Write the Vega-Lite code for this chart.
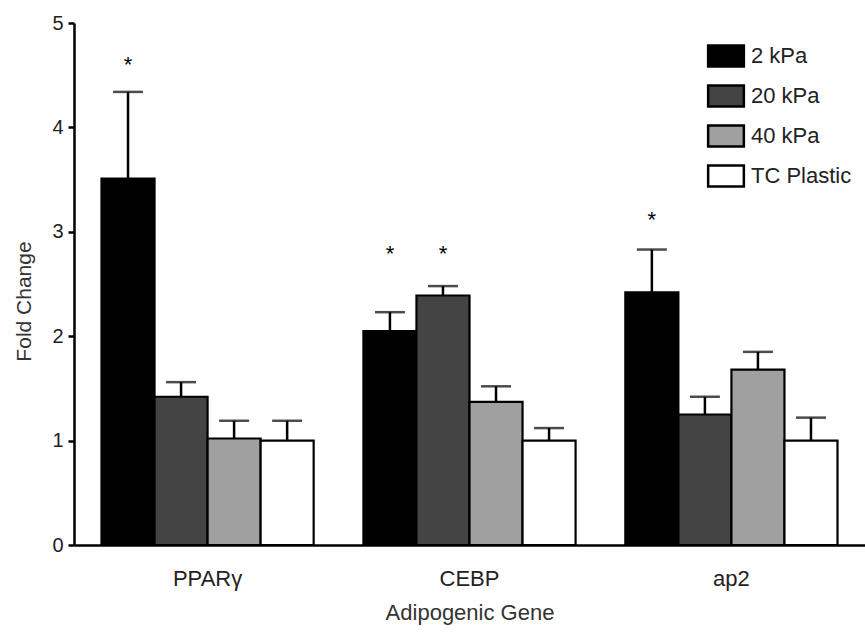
{
  "$schema": "https://vega.github.io/schema/vega-lite/v6.json",
  "width": 791,
  "height": 522,
  "autosize": {"type": "none"},
  "padding": {"left": 74, "top": 23, "right": 0, "bottom": 89},
  "background": "white",
  "config": {
    "font": "Liberation Sans",
    "view": {"stroke": null},
    "axis": {"grid": false, "labelFont": "Liberation Sans", "titleFont": "Liberation Sans", "titleFontWeight": "normal"},
    "axisX": {
      "ticks": false, "labelAngle": 0, "domainWidth": 2.5, "domainColor": "#000",
      "labelFontSize": 22, "labelColor": "#222", "labelPadding": 23,
      "titleFontSize": 22, "titleColor": "#333", "titlePadding": 13
    },
    "axisY": {
      "domainWidth": 2.5, "domainColor": "#000", "tickWidth": 2.5, "tickColor": "#000", "tickSize": 6,
      "labelFontSize": 20, "labelColor": "#222", "labelPadding": 5,
      "titleFontSize": 21, "titleColor": "#333", "titlePadding": 17, "titleY": 278
    }
  },
  "data": {
    "values": [
      {"gene": "PPARγ", "group": "2 kPa", "value": 3.51, "err": 4.34, "star": 4.62},
      {"gene": "PPARγ", "group": "20 kPa", "value": 1.42, "err": 1.56, "star": null},
      {"gene": "PPARγ", "group": "40 kPa", "value": 1.02, "err": 1.19, "star": null},
      {"gene": "PPARγ", "group": "TC Plastic", "value": 1.0, "err": 1.19, "star": null},
      {"gene": "CEBP", "group": "2 kPa", "value": 2.05, "err": 2.23, "star": 2.81},
      {"gene": "CEBP", "group": "20 kPa", "value": 2.39, "err": 2.48, "star": 2.81},
      {"gene": "CEBP", "group": "40 kPa", "value": 1.37, "err": 1.52, "star": null},
      {"gene": "CEBP", "group": "TC Plastic", "value": 1.0, "err": 1.12, "star": null},
      {"gene": "ap2", "group": "2 kPa", "value": 2.42, "err": 2.83, "star": 3.13},
      {"gene": "ap2", "group": "20 kPa", "value": 1.25, "err": 1.42, "star": null},
      {"gene": "ap2", "group": "40 kPa", "value": 1.68, "err": 1.85, "star": null},
      {"gene": "ap2", "group": "TC Plastic", "value": 1.0, "err": 1.22, "star": null}
    ]
  },
  "encoding": {
    "x": {
      "field": "gene", "type": "nominal", "sort": ["PPARγ", "CEBP", "ap2"],
      "scale": {"paddingInner": 0.19, "paddingOuter": 0.105},
      "axis": {"title": "Adipogenic Gene"}
    },
    "xOffset": {
      "field": "group", "type": "nominal", "sort": ["2 kPa", "20 kPa", "40 kPa", "TC Plastic"],
      "scale": {"paddingInner": 0, "paddingOuter": 0}
    }
  },
  "layer": [
    {
      "mark": {"type": "bar", "stroke": "#000", "strokeWidth": 2.2},
      "encoding": {
        "y": {
          "field": "value", "type": "quantitative",
          "scale": {"domain": [0, 5], "nice": false},
          "axis": {"title": "Fold Change", "values": [0, 1, 2, 3, 4, 5], "labelOverlap": false}
        },
        "fill": {
          "field": "group", "type": "nominal", "sort": ["2 kPa", "20 kPa", "40 kPa", "TC Plastic"],
          "scale": {"domain": ["2 kPa", "20 kPa", "40 kPa", "TC Plastic"], "range": ["#000000", "#444444", "#a0a0a0", "#ffffff"]},
          "legend": {
            "title": null, "orient": "none", "legendX": 640, "legendY": 21, "padding": 0,
            "symbolType": "M-1.7,-1H1.7V1H-1.7Z", "symbolSize": 441,
            "symbolStrokeColor": "#000", "symbolStrokeWidth": 2.5, "symbolOpacity": 1,
            "labelFontSize": 22, "labelColor": "#222", "labelOffset": 13, "rowPadding": 8
          }
        }
      }
    },
    {
      "mark": {"type": "rule", "color": "#000", "strokeWidth": 2.5},
      "encoding": {
        "y": {"field": "value", "type": "quantitative", "axis": {"title": "Fold Change", "values": [0, 1, 2, 3, 4, 5], "labelOverlap": false}},
        "y2": {"field": "err"}
      }
    },
    {
      "mark": {"type": "tick", "color": "#000", "size": 30, "thickness": 2.5, "orient": "horizontal"},
      "encoding": {
        "y": {"field": "err", "type": "quantitative", "axis": {"title": "Fold Change", "values": [0, 1, 2, 3, 4, 5], "labelOverlap": false}}
      }
    },
    {
      "transform": [{"filter": "datum.star != null"}],
      "mark": {"type": "text", "text": "*", "fontSize": 22, "baseline": "middle", "dy": 2, "color": "#000"},
      "encoding": {
        "y": {"field": "star", "type": "quantitative", "axis": {"title": "Fold Change", "values": [0, 1, 2, 3, 4, 5], "labelOverlap": false}}
      }
    }
  ]
}
